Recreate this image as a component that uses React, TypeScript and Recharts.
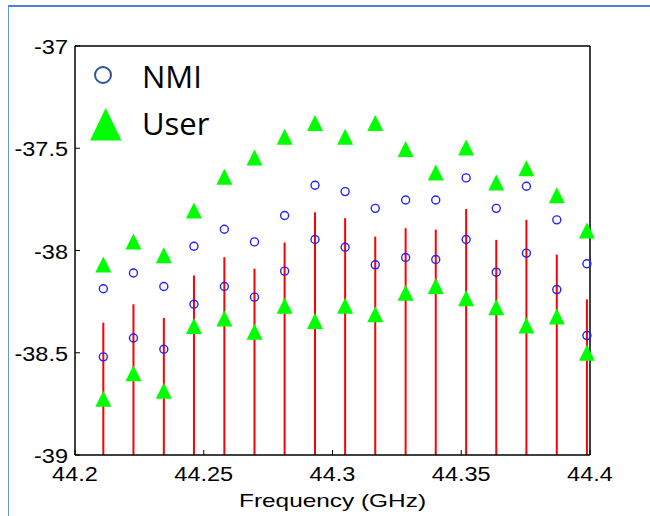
import { ComposedChart, Scatter, XAxis, YAxis, ErrorBar } from 'recharts';

// frequencies of the 17 measurement points (GHz)
const freqs = [
  44.211, 44.2227, 44.2345, 44.2462, 44.258, 44.2697, 44.2814, 44.2932, 44.3049,
  44.3166, 44.3284, 44.3401, 44.3519, 44.3636, 44.3753, 44.3871, 44.3988,
];

const nmiUpper = [
  -38.187, -38.11, -38.176, -37.979, -37.896, -37.958, -37.829, -37.681, -37.712,
  -37.794, -37.753, -37.753, -37.645, -37.794, -37.686, -37.85, -38.065,
];
const nmiLower = [
  -38.52, -38.428, -38.483, -38.263, -38.176, -38.228, -38.101, -37.946, -37.984,
  -38.07, -38.034, -38.044, -37.946, -38.106, -38.013, -38.191, -38.416,
];
const userUpper = [
  -38.068, -37.956, -38.023, -37.805, -37.639, -37.545, -37.444, -37.376, -37.444,
  -37.376, -37.504, -37.618, -37.496, -37.668, -37.598, -37.73, -37.902,
];
const userLower = [
  -38.725, -38.6, -38.686, -38.369, -38.332, -38.397, -38.27, -38.345, -38.27,
  -38.312, -38.206, -38.174, -38.234, -38.277, -38.367, -38.323, -38.5,
];
// top of the red stems
const stemTop = [
  -38.353, -38.263, -38.33, -38.122, -38.033, -38.089, -37.961, -37.813, -37.842,
  -37.932, -37.891, -37.898, -37.797, -37.948, -37.85, -38.02, -38.239,
];

const xTicks = [44.2, 44.25, 44.3, 44.35, 44.4];
const yTicks = [-39, -38.5, -38, -37.5, -37];

const toPoints = (ys: number[]) => freqs.map((x, i) => ({ x, y: ys[i] }));
const stemData = freqs.map((x, i) => ({ x, y: stemTop[i], err: [stemTop[i] - yTicks[0], 0] }));

const tickFont = '"Liberation Sans", Arial, sans-serif';

const Ring = (props: any) => (
  <circle cx={props.cx} cy={props.cy} r={4} fill="none" stroke="#2222ff" strokeWidth={1.4} />
);

const Tri = (props: any) => {
  const { cx, cy } = props;
  const h = 8;
  return <polygon points={`${cx},${cy - h} ${cx - h},${cy + h} ${cx + h},${cy + h}`} fill="#00ff00" />;
};

const Empty = () => <g />;

const BottomTick = ({ x, y, payload }: any) => (
  <g>
    <line x1={x} x2={x} y1={y} y2={y - 5} stroke="#000" />
    <text
      transform={`translate(${x},${y + 26}) scale(1.12,1)`}
      textAnchor="middle"
      fontSize={21}
      fontFamily={tickFont}
      fill="#000"
    >
      {payload.value}
    </text>
  </g>
);

const LeftTick = ({ x, y, payload }: any) => (
  <g>
    <line x1={x} x2={x + 5} y1={y} y2={y} stroke="#000" />
    <text
      transform={`translate(${x - 7},${y + 8}) scale(1.12,1)`}
      textAnchor="end"
      fontSize={21}
      fontFamily={tickFont}
      fill="#000"
    >
      {payload.value}
    </text>
  </g>
);

const TopTick = ({ x, y }: any) => <line x1={x} x2={x} y1={y} y2={y + 5} stroke="#000" />;
const RightTick = ({ x, y }: any) => <line x1={x} x2={x - 5} y1={y} y2={y} stroke="#000" />;

const freqLabel = (props: any) => {
  const vb = props.viewBox || { x: 75, y: 455, width: 515 };
  return (
    <text
      x={vb.x + vb.width / 2}
      y={vb.y + 52}
      textAnchor="middle"
      fontSize={19}
      fontFamily={tickFont}
      textLength={187}
      lengthAdjust="spacingAndGlyphs"
      fill="#000"
    >
      Frequency (GHz)
    </text>
  );
};

export default function App() {
  return (
    <div style={{ position: 'absolute', left: 0, top: 0, width: 650, height: 516, background: '#fff' }}>
      <ComposedChart width={650} height={516} margin={{ top: 0, right: 0, bottom: 0, left: 0 }}>
        <XAxis
          dataKey="x"
          type="number"
          domain={[44.2, 44.4]}
          ticks={xTicks}
          height={61}
          tickSize={0}
          tickMargin={0}
          tickLine={false}
          tick={<BottomTick />}
          axisLine={{ stroke: '#000', strokeWidth: 1.5 }}
          label={freqLabel}
        />
        <XAxis
          xAxisId="top"
          orientation="top"
          type="number"
          domain={[44.2, 44.4]}
          ticks={xTicks}
          height={46}
          tickSize={0}
          tickMargin={0}
          tickLine={false}
          tick={<TopTick />}
          axisLine={{ stroke: '#000', strokeWidth: 1.5 }}
        />
        <YAxis
          dataKey="y"
          type="number"
          domain={[-39, -37]}
          ticks={yTicks}
          width={75}
          tickSize={0}
          tickMargin={0}
          tickLine={false}
          tick={<LeftTick />}
          axisLine={{ stroke: '#000', strokeWidth: 1.5 }}
        />
        <YAxis
          yAxisId="right"
          orientation="right"
          type="number"
          domain={[-39, -37]}
          ticks={yTicks}
          width={60}
          tickSize={0}
          tickMargin={0}
          tickLine={false}
          tick={<RightTick />}
          axisLine={{ stroke: '#000', strokeWidth: 1.5 }}
        />
        <Scatter data={stemData} shape={<Empty />} isAnimationActive={false}>
          <ErrorBar dataKey="err" direction="y" width={0} stroke="#ff0000" strokeWidth={2} isAnimationActive={false} />
        </Scatter>
        <Scatter data={toPoints(nmiUpper)} shape={<Ring />} isAnimationActive={false} />
        <Scatter data={toPoints(nmiLower)} shape={<Ring />} isAnimationActive={false} />
        <Scatter data={toPoints(userUpper)} shape={<Tri />} isAnimationActive={false} />
        <Scatter data={toPoints(userLower)} shape={<Tri />} isAnimationActive={false} />
      </ComposedChart>
      {/* legend */}
      <svg width={650} height={516} style={{ position: 'absolute', left: 0, top: 0, pointerEvents: 'none' }}>
        <circle cx={103} cy={75} r={8} fill="none" stroke="#2f5597" strokeWidth={2} />
        <text x={142} y={88} fontSize={31} fontFamily='"Open Sans", sans-serif' fill="#000">
          NMI
        </text>
        <polygon points="105.7,108 90,140.5 121.5,140.5" fill="#00ff00" />
        <text x={142} y={135} fontSize={31} fontFamily='"Open Sans", sans-serif' fill="#000">
          User
        </text>
      </svg>
      {/* slide frame */}
      <div
        style={{
          position: 'absolute',
          left: 8,
          top: 5,
          width: 642,
          height: 511,
          borderTop: '2px solid #4f7fd3',
          borderLeft: '1.5px solid #6b93da',
          boxSizing: 'border-box',
        }}
      />
    </div>
  );
}
